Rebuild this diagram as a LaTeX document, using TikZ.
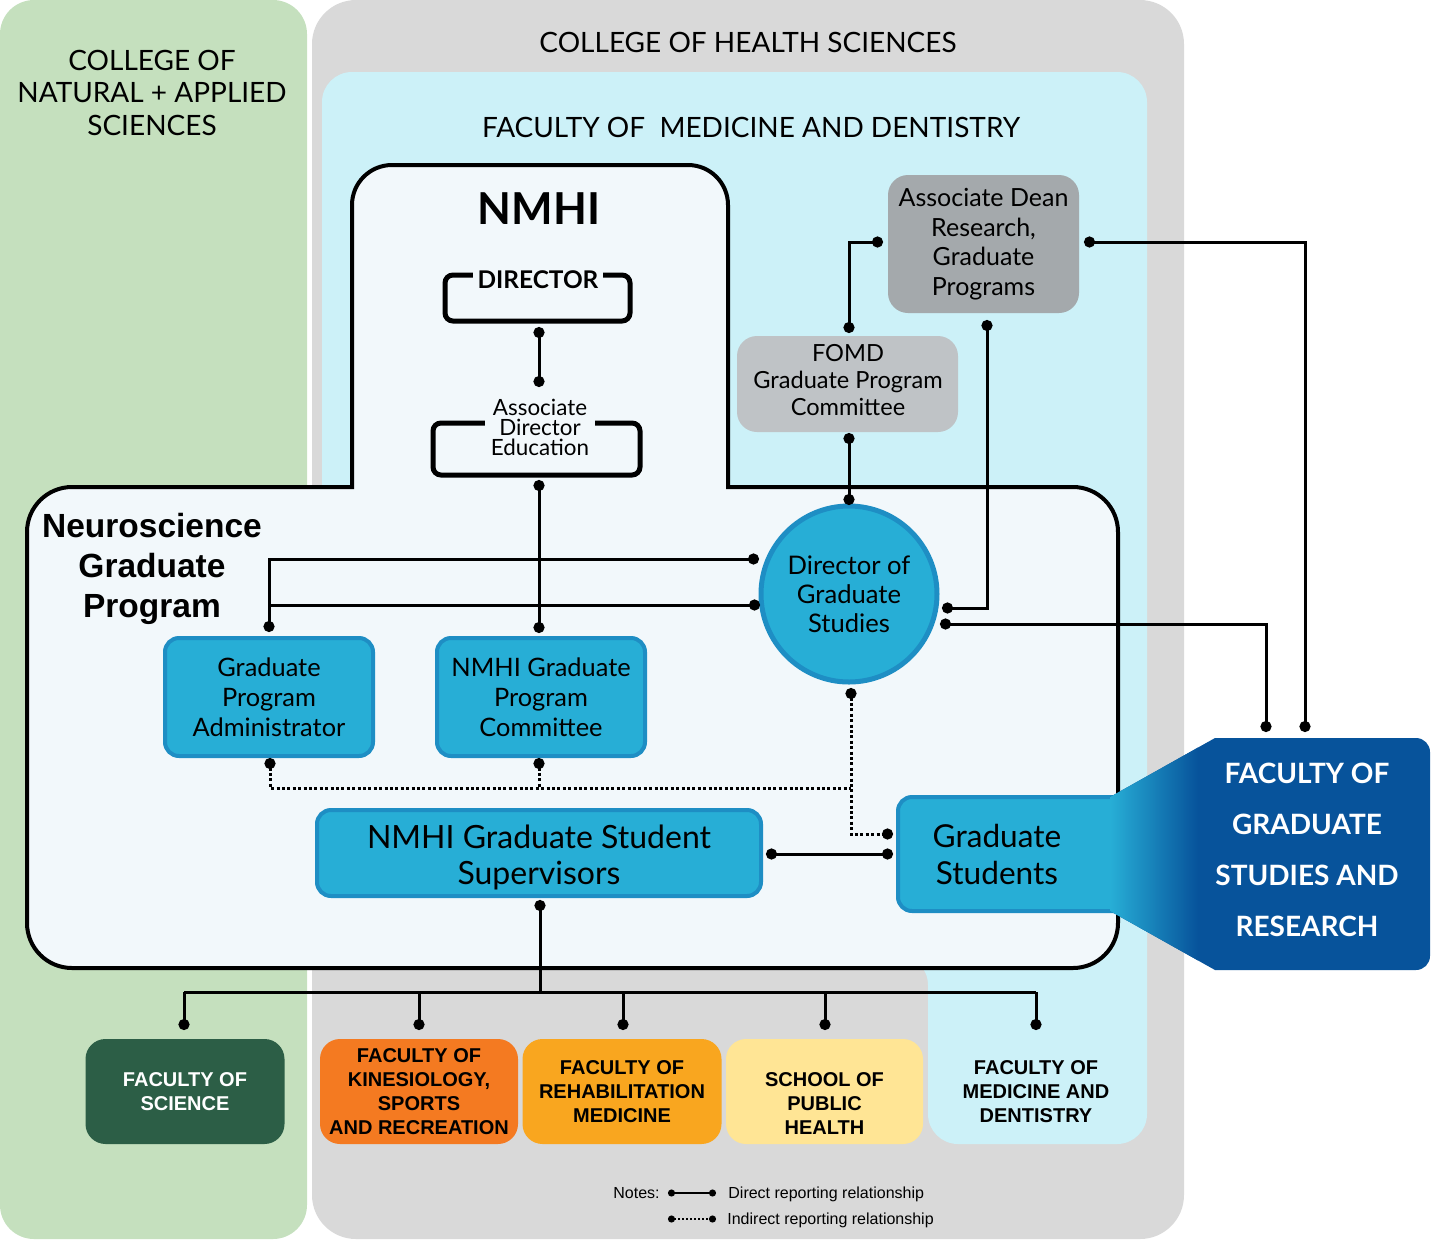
\documentclass[tikz,border=0pt]{standalone}
\usepackage{fontspec}
\setmainfont{Lato}
\newfontfamily\arialf{Liberation Sans}
\usetikzlibrary{arrows.meta}
\definecolor{greenpanel}{HTML}{C5E0BE}
\definecolor{graypanel}{HTML}{D9D9D9}
\definecolor{bluepanel}{HTML}{CCF1F8}
\definecolor{innerfill}{HTML}{F2F8FB}
\definecolor{deangray}{HTML}{A4A9AC}
\definecolor{fomdgray}{HTML}{BFC3C6}
\definecolor{nodeblue}{HTML}{27AED6}
\definecolor{nodeborder}{HTML}{1E8EC4}
\definecolor{fgsrblue}{HTML}{07539B}
\definecolor{scigreen}{HTML}{2C5E46}
\definecolor{kinorange}{HTML}{F47A21}
\definecolor{rehaborange}{HTML}{F9A61F}
\definecolor{phyellow}{HTML}{FFE595}
\begin{document}
\begin{tikzpicture}[x=0.5pt,y=-0.5pt,
  paneltitle/.style={font=\fontsize{14}{16.25}\selectfont, align=center, inner sep=0},
  bluebox/.style={draw=nodeborder, fill=nodeblue, line width=2pt, rounded corners=7pt, align=center, inner sep=0,
     font=\fontsize{12.7}{15}\selectfont},
  graybox/.style={rounded corners=10pt, align=center, inner sep=0},
  facbox/.style={rounded corners=10pt, align=center, inner sep=0, minimum height=52.5pt,
     font=\arialf\bfseries\fontsize{10}{12}\selectfont},
  factext/.style={align=center, inner sep=0, font=\arialf\bfseries\fontsize{10}{12}\selectfont},
  bracket/.style={draw, line width=2.5pt, rounded corners=4pt, inner sep=0},
  link/.style={line width=1.5pt, {Circle[length=5.5pt]}-{Circle[length=5.5pt]}},
  linkend/.style={line width=1.5pt, -{Circle[length=5.5pt]}},
  linkstart/.style={line width=1.5pt, {Circle[length=5.5pt]}-},
  plain/.style={line width=1.5pt},
  ind/.style={line width=1.5pt, dash pattern=on 1.5pt off 1.2pt},
  notetext/.style={anchor=base west, inner sep=0, font=\arialf\fontsize{8}{9.6}\selectfont},
]
\useasboundingbox (0,0) rectangle (1442,1239);
% panels
\fill[greenpanel, rounded corners=17pt] (0,0) rectangle (307,1239);
\fill[graypanel, rounded corners=22pt] (312,0) rectangle (1184,1239);
\fill[bluepanel, rounded corners=15pt] (322,72) -- (1147,72) -- (1147,1144) -- (928,1144) -- (928,955) -- (322,955) -- cycle;
\node[paneltitle] (cnas) at (152,92.5) {COLLEGE OF\\NATURAL + APPLIED\\SCIENCES};
\node[paneltitle] (chs) at (748,42.5) {COLLEGE OF HEALTH SCIENCES};
\node[paneltitle] (fomdt) at (751,127.5) {FACULTY OF\ \ MEDICINE AND DENTISTRY};
% NMHI + Neuroscience outline
\draw[line width=2pt, fill=innerfill] (352,487) -- (352,205) arc (180:270:40) -- (688,165) arc (270:360:40)
  -- (728,487) -- (1073,487) arc (270:360:45) -- (1118,923) arc (0:90:45) -- (72,968) arc (90:180:45)
  -- (27,532) arc (180:270:45) -- cycle;
\node[font=\bfseries\fontsize{22}{26}\selectfont, inner sep=0] (nmhi) at (539,209) {NMHI};
\node[font=\arialf\bfseries\fontsize{16.75}{20}\selectfont, align=center, inner sep=0] (ngp) at (152,569) {Neuroscience\\Graduate\\Program};
% Director brackets
\node[bracket, minimum width=92.5pt, minimum height=23pt] (dirbox) at (537.5,298) {};
\node[fill=innerfill, inner xsep=2.5pt, inner ysep=2pt, font=\bfseries\fontsize{12.2}{14}\selectfont] (dir) at (538,280) {DIRECTOR};
\node[bracket, minimum width=103.5pt, minimum height=26pt] (adebox) at (536.5,449) {};
\node[fill=innerfill, inner sep=3pt, align=center, font=\fontsize{11.2}{10}\selectfont] (ade) at (540,427) {Associate\\Director\\Education};
% FoMD gray boxes
\node[graybox, fill=deangray, minimum width=95.5pt, minimum height=69pt, font=\fontsize{12.5}{14.75}\selectfont] (adean) at (983.5,244) {Associate Dean\\Research,\\Graduate\\Programs};
\node[graybox, fill=fomdgray, minimum width=110.5pt, minimum height=48pt] (fomdbox) at (847.5,384) {};
\node[align=center, inner sep=0, font=\fontsize{11.8}{13.5}\selectfont] (fomd) at (848,380) {FOMD\\Graduate Program\\Committee};
% blue nodes
\node[circle, draw=nodeborder, fill=nodeblue, line width=2.5pt, minimum size=88pt, inner sep=0, align=center, font=\fontsize{12.8}{14.6}\selectfont] (dgs) at (849,594) {Director of\\Graduate\\Studies};
\node[bluebox, minimum width=104pt, minimum height=59pt] (adm) at (269,697) {Graduate\\Program\\Administrator};
\node[bluebox, minimum width=104pt, minimum height=59pt] (com) at (541,697) {NMHI Graduate\\Program\\Committee};
\node[bluebox, minimum width=222pt, minimum height=43pt] (supbox) at (539,853) {};
\node[align=center, inner sep=0, font=\fontsize{16}{18}\selectfont] (sup) at (539,857) {NMHI Graduate Student\\Supervisors};
\node[bluebox, minimum width=116pt, minimum height=57pt] (gsbox) at (1014,854) {};
\node[align=center, inner sep=0, font=\fontsize{15.8}{18.5}\selectfont] (gs) at (997,854) {Graduate\\Students};
% FGSR
\begin{scope}
\clip (1110,797) -- (1215,738) -- (1416,738) arc (270:360:14) -- (1430,956) arc (0:90:14) -- (1215,970) -- (1110,911) -- cycle;
\fill[fgsrblue] (1100,730) rectangle (1440,980);
\shade[left color=nodeblue, right color=fgsrblue] (1110,730) rectangle (1198,980);
\end{scope}
\node[align=center, inner sep=0, text=white, font=\bfseries\fontsize{14}{25.5}\selectfont] (fgsr) at (1307,850) {FACULTY OF\\GRADUATE\\STUDIES AND\\RESEARCH};
% bottom faculties
\node[facbox, fill=scigreen, text=white, minimum width=99.5pt] (sci) at (185,1091.5) {FACULTY OF\\SCIENCE};
\node[facbox, fill=kinorange, minimum width=99pt] (kin) at (419,1091.5) {FACULTY OF\\KINESIOLOGY,\\SPORTS\\AND RECREATION};
\node[facbox, fill=rehaborange, minimum width=99.5pt] (reh) at (622,1091.5) {FACULTY OF\\REHABILITATION\\MEDICINE};
\node[facbox, fill=phyellow, minimum width=98.5pt] (phbox) at (824.5,1091.5) {};
\node[factext] (ph) at (824.5,1104) {SCHOOL OF\\PUBLIC\\HEALTH};
\node[factext] (fmd) at (1036,1092) {FACULTY OF\\MEDICINE AND\\DENTISTRY};
% coordinates
\coordinate (dirB) at (539,327); \coordinate (adeT) at (539,387);
\coordinate (adeB) at (539,480); \coordinate (comT) at (539,633);
\coordinate (dgsL1) at (759,559); \coordinate (admT) at (269,632);
\coordinate (dgsL2) at (760,605); \coordinate (admJ) at (269,605);
\coordinate (adL) at (883,242); \coordinate (fomdT) at (849,333);
\coordinate (fomdB) at (849,433); \coordinate (dgsT) at (849,505);
\coordinate (adR) at (1084,242); \coordinate (fg1) at (1305,732);
\coordinate (adB) at (987,320); \coordinate (dgsR1) at (942,608);
\coordinate (dgsR2) at (940,624); \coordinate (fg2) at (1266,732);
\coordinate (admB) at (270,758); \coordinate (jn) at (851,788);
\coordinate (comB) at (539,758); \coordinate (comJ) at (539,788);
\coordinate (dgsB) at (851,688); \coordinate (stT) at (893,834);
\coordinate (supR) at (766,854); \coordinate (stL) at (893,854);
\coordinate (supB) at (540,900); \coordinate (trunk) at (540,992);
\coordinate (b1) at (184,992); \coordinate (b2) at (419,992); \coordinate (b3) at (623,992);
\coordinate (b4) at (825,992); \coordinate (b5) at (1036,992);
\coordinate (d1) at (184,1030); \coordinate (d2) at (419,1030); \coordinate (d3) at (623,1030);
\coordinate (d4) at (825,1030); \coordinate (d5) at (1036,1030);
% connectors
\draw[link] (dirB) -- (adeT);
\draw[link] (adeB) -- (comT);
\draw[link] (dgsL1) -| (admT);
\draw[linkstart] (dgsL2) -- (admJ);
\draw[link] (adL) -| (fomdT);
\draw[link] (fomdB) -- (dgsT);
\draw[link] (adR) -| (fg1);
\draw[link] (adB) |- (dgsR1);
\draw[link] (dgsR2) -| (fg2);
\draw[ind, {Circle[length=5.5pt]}-] (admB) |- (jn);
\draw[ind, {Circle[length=5.5pt]}-] (comB) -- (comJ);
\draw[ind, {Circle[length=5.5pt]}-{Circle[length=5.5pt]}] (dgsB) |- (stT);
\draw[link] (supR) -- (stL);
\draw[linkstart] (supB) -- (trunk);
\draw[plain] (b1) -- (b5);
\foreach \i in {1,...,5} \draw[linkend] (b\i) -- (d\i);
% notes
\node[notetext] (notes) at (613,1198) {Notes:};
\coordinate (n1a) at (668,1193); \coordinate (n1b) at (716,1193);
\coordinate (n2a) at (668,1219); \coordinate (n2b) at (716,1219);
\draw[line width=1pt, {Circle[length=3.5pt]}-{Circle[length=3.5pt]}] (n1a) -- (n1b);
\draw[line width=1pt, dash pattern=on 1pt off 1pt, {Circle[length=3.5pt]}-{Circle[length=3.5pt]}] (n2a) -- (n2b);
\node[notetext] (ndir) at (728,1198) {Direct reporting relationship};
\node[notetext] (nind) at (727,1224) {Indirect reporting relationship};
\end{tikzpicture}
\end{document}
